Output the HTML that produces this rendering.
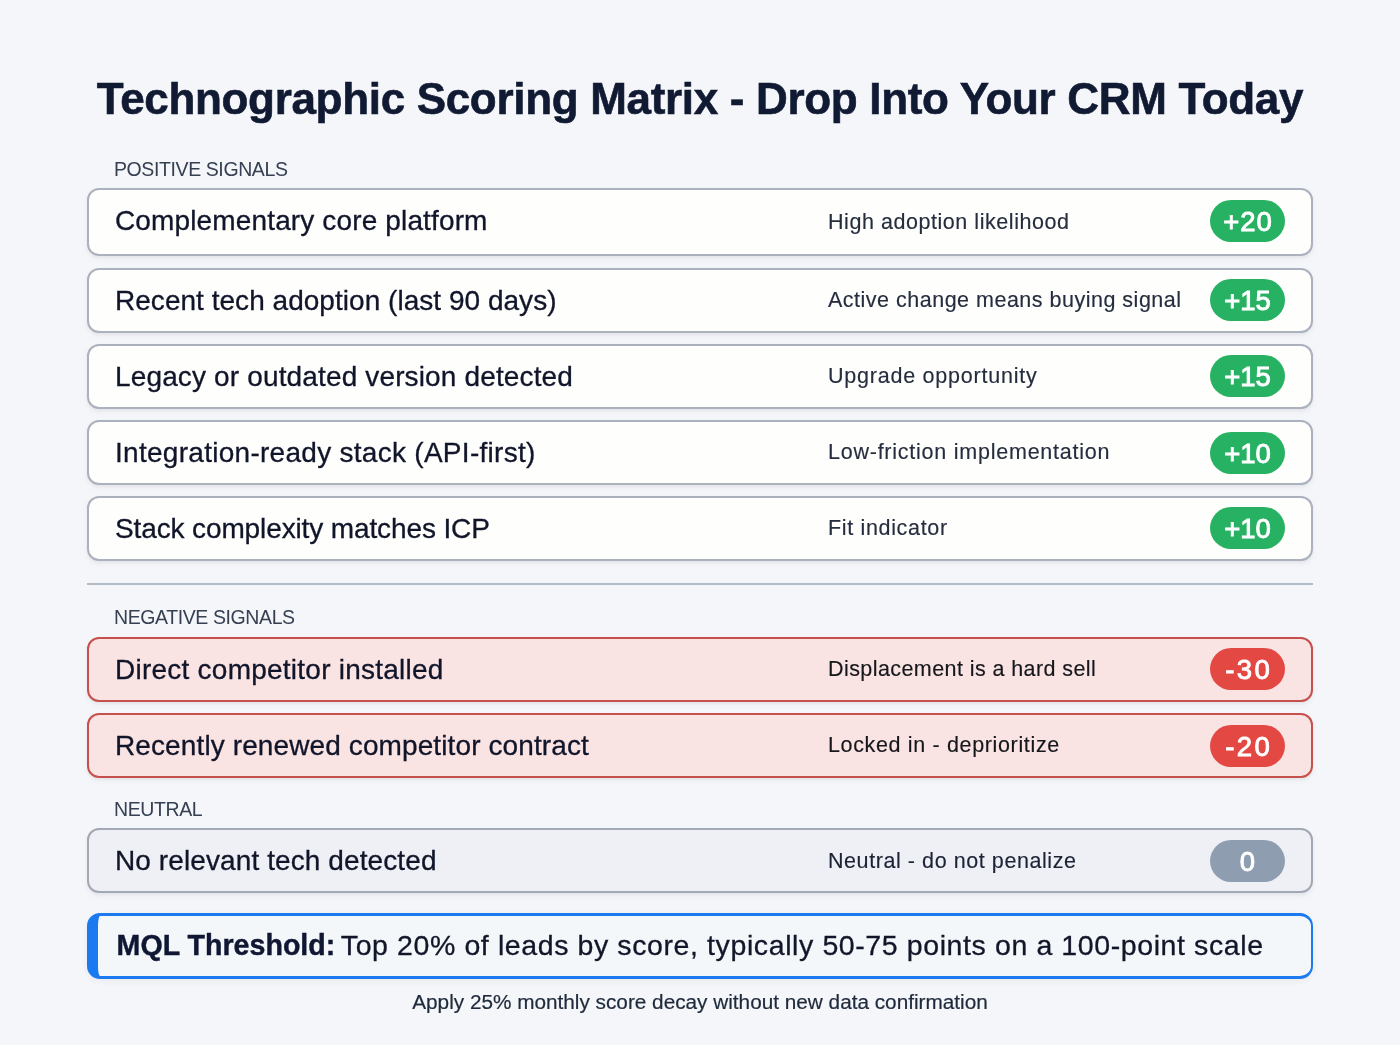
<!DOCTYPE html>
<html>
<head>
<meta charset="utf-8">
<style>
html,body{margin:0;padding:0;}
body{width:1400px;height:1045px;overflow:hidden;background:#f4f6f9;position:relative;font-family:"Liberation Sans",Arial,sans-serif;color:#0f172a;}
.title{position:absolute;left:0;width:1400px;top:69px;text-align:center;font-weight:700;font-size:44px;letter-spacing:-0.32px;line-height:60px;color:#111a33;white-space:nowrap;-webkit-text-stroke:0.6px #111a33;}
.sec{position:absolute;left:114px;font-size:19.5px;letter-spacing:-0.4px;color:#364052;line-height:24px;white-space:nowrap;}
.card{position:absolute;left:87px;width:1226px;box-sizing:border-box;border:2px solid #abb1bd;border-radius:12px;background:#fefefd;box-shadow:0 2px 3px rgba(30,41,59,0.05),0 3px 8px rgba(30,41,59,0.03);}
.card.neg{background:#f9e3e3;border-color:#c6504b;}
.card.neu{background:#eef0f5;border-color:#a2a9b5;}
.lbl{position:absolute;left:115px;font-size:28px;color:#11152a;white-space:nowrap;-webkit-text-stroke:0.3px #11152a;}
.desc{position:absolute;left:828px;font-size:21.5px;color:#252d3e;white-space:nowrap;-webkit-text-stroke:0.15px #252d3e;}
.desc.neg{color:#15171c;-webkit-text-stroke-color:#15171c;}
.desc.neu{color:#1c2336;-webkit-text-stroke-color:#1c2336;}
.badge{position:absolute;left:1210px;width:75px;height:42px;border-radius:21px;background:#27b163;color:#fff;font-size:27.5px;line-height:44px;text-align:center;-webkit-text-stroke:0.9px #fff;}
.badge.neg{background:#e44843;letter-spacing:2.5px;text-indent:2.5px;}
.badge.neu{background:#8f9db1;}
.divider{position:absolute;left:87px;width:1226px;top:583px;height:2px;background:#b3bdc8;}
.mql{position:absolute;left:87px;top:913px;width:1226px;height:66px;box-sizing:border-box;border:3px solid #1c7af0;border-left-width:11px;border-right-width:2.6px;border-radius:13px;background:#f4f7fa;box-shadow:0 2px 6px rgba(30,41,59,0.06);}
.mql .t{position:absolute;left:18.6px;top:-1px;line-height:61px;font-size:28.5px;color:#121629;white-space:nowrap;letter-spacing:0.6px;-webkit-text-stroke:0.3px #121629;}
.mql b{font-size:28.6px;letter-spacing:0px;margin-right:-2.5px;color:#0f1733;-webkit-text-stroke:0.4px #0f1733;}
.foot{position:absolute;left:0;width:1400px;top:990px;text-align:center;font-size:20.75px;color:#1e293b;line-height:24px;white-space:nowrap;-webkit-text-stroke:0.2px #1e293b;}
</style>
</head>
<body>
<div class="title">Technographic Scoring Matrix - Drop Into Your CRM Today</div>

<div class="sec" style="top:157px">POSITIVE SIGNALS</div>
<div class="card" style="top:188px;height:68px"></div>
<span class="lbl" style="top:190px;line-height:62px;letter-spacing:0.14px">Complementary core platform</span>
<span class="desc" style="top:191px;line-height:62px;letter-spacing:0.55px">High adoption likelihood</span>
<span class="badge" style="top:199.6px;letter-spacing:1px;text-indent:1px;">+20</span>
<div class="card" style="top:268px;height:65px"></div>
<span class="lbl" style="top:270px;line-height:61px;letter-spacing:0.03px">Recent tech adoption (last 90 days)</span>
<span class="desc" style="top:270px;line-height:61px;letter-spacing:0.5px">Active change means buying signal</span>
<span class="badge" style="top:278.5px;">+15</span>
<div class="card" style="top:344px;height:65px"></div>
<span class="lbl" style="top:345.5px;line-height:61px;letter-spacing:0.145px">Legacy or outdated version detected</span>
<span class="desc" style="top:345.5px;line-height:61px;letter-spacing:0.77px">Upgrade opportunity</span>
<span class="badge" style="top:355px;">+15</span>
<div class="card" style="top:420px;height:65px"></div>
<span class="lbl" style="top:422px;line-height:61px;letter-spacing:0.28px">Integration-ready stack (API-first)</span>
<span class="desc" style="top:422px;line-height:61px;letter-spacing:0.76px">Low-friction implementation</span>
<span class="badge" style="top:431.5px;">+10</span>
<div class="card" style="top:496px;height:65px"></div>
<span class="lbl" style="top:498px;line-height:61px;letter-spacing:-0.12px">Stack complexity matches ICP</span>
<span class="desc" style="top:498px;line-height:61px;letter-spacing:0.66px">Fit indicator</span>
<span class="badge" style="top:506.5px;">+10</span>

<div class="divider"></div>

<div class="sec" style="top:605px">NEGATIVE SIGNALS</div>
<div class="card neg" style="top:637px;height:65px"></div>
<span class="lbl neg" style="top:639px;line-height:61px;letter-spacing:0.24px">Direct competitor installed</span>
<span class="desc neg" style="top:639px;line-height:61px;letter-spacing:0.42px">Displacement is a hard sell</span>
<span class="badge neg" style="top:647.5px;">-30</span>
<div class="card neg" style="top:713px;height:65px"></div>
<span class="lbl neg" style="top:715px;line-height:61px;letter-spacing:0.11px">Recently renewed competitor contract</span>
<span class="desc neg" style="top:715px;line-height:61px;letter-spacing:0.65px">Locked in - deprioritize</span>
<span class="badge neg" style="top:724.5px;">-20</span>

<div class="sec" style="top:797px">NEUTRAL</div>
<div class="card neu" style="top:828px;height:65px"></div>
<span class="lbl neu" style="top:831px;line-height:60px;letter-spacing:0.1px">No relevant tech detected</span>
<span class="desc neu" style="top:831px;line-height:60px;letter-spacing:0.57px">Neutral - do not penalize</span>
<span class="badge neu" style="top:840px;">0</span>

<div class="mql"><span class="t"><b>MQL Threshold:</b> Top 20% of leads by score, typically 50-75 points on a 100-point scale</span></div>

<div class="foot">Apply 25% monthly score decay without new data confirmation</div>
</body>
</html>
